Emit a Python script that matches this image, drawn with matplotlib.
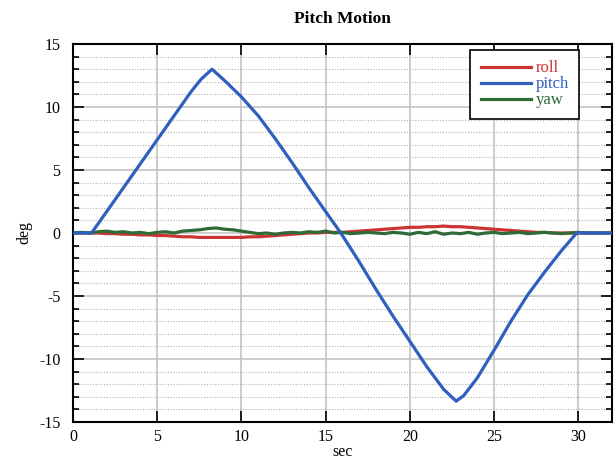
"""Pitch motion: roll, pitch and yaw angles against time."""

from matplotlib import pyplot
from matplotlib.ticker import MultipleLocator
import numpy

# Pitch angle, read at its corners (sec, deg).
pitch_t = [0.0, 1.1, 2.0, 3.0, 4.0, 5.0, 6.0, 7.0, 7.6, 8.25,
           9.0, 10.0, 11.0, 12.0, 13.0, 14.0, 15.0, 15.9, 17.0, 18.0,
           19.0, 20.0, 21.0, 22.0, 22.75, 23.2, 24.0, 25.0, 26.0, 27.0,
           28.0, 29.0, 29.9, 32.0]
pitch = [0.0, 0.0, 1.7, 3.6, 5.5, 7.4, 9.3, 11.2, 12.2, 13.0,
         12.1, 10.8, 9.3, 7.5, 5.6, 3.6, 1.7, 0.0, -2.3, -4.5,
         -6.6, -8.6, -10.6, -12.4, -13.35, -12.9, -11.5, -9.3, -7.0, -4.9,
         -3.1, -1.4, 0.0, 0.0]

# Roll and yaw, read every half second.
t = numpy.arange(0.0, 32.01, 0.5)
roll = [0.0, 0.0, 0.0, 0.0, -0.05, -0.05, -0.1, -0.1, -0.15, -0.15,
        -0.2, -0.2, -0.25, -0.3, -0.3, -0.35, -0.35, -0.35, -0.35, -0.35,
        -0.35, -0.3, -0.3, -0.25, -0.2, -0.15, -0.1, -0.05, 0.0, 0.0,
        0.05, 0.05, 0.05, 0.1, 0.15, 0.2, 0.25, 0.3, 0.35, 0.4,
        0.45, 0.45, 0.5, 0.5, 0.55, 0.5, 0.5, 0.45, 0.4, 0.35,
        0.3, 0.25, 0.2, 0.15, 0.1, 0.05, 0.05, 0.0, 0.0, 0.0,
        0.0, 0.0, 0.0, 0.0, 0.0]
yaw = [0.0, 0.05, 0.0, 0.1, 0.15, 0.05, 0.1, 0.0, 0.05, -0.05,
       0.05, 0.1, 0.0, 0.15, 0.2, 0.25, 0.35, 0.4, 0.3, 0.25,
       0.15, 0.05, -0.05, 0.0, -0.1, 0.0, 0.05, 0.0, 0.1, 0.05,
       0.15, 0.0, 0.05, -0.05, 0.0, 0.05, 0.0, -0.05, 0.05, 0.0,
       -0.1, 0.05, -0.05, 0.1, -0.1, 0.0, -0.05, 0.05, -0.1, 0.0,
       0.05, -0.05, 0.0, 0.05, -0.05, 0.0, 0.05, 0.0, -0.05, 0.0,
       0.05, 0.0, 0.0, 0.0, 0.0]

red = '#cc3333'
blue = '#2f5fbf'
green = '#2e6b37'

pyplot.rc('font', family=['Liberation Serif', 'DejaVu Serif'], size=11.5)
pyplot.rc('axes', unicode_minus=False)
fig = pyplot.figure(figsize=(6.15, 4.59), dpi=100)
ax = fig.add_axes([73 / 615, 37 / 459, 539 / 615, 378 / 459])

l_roll, = ax.plot(t, roll, color=red, linewidth=2.3, zorder=3)
l_yaw, = ax.plot(t, yaw, color=green, linewidth=2.3, zorder=4)
l_pitch, = ax.plot(pitch_t, pitch, color=blue, linewidth=2.3, zorder=5)

ax.set_xlim(0, 32)
ax.set_ylim(-15, 15)
ax.xaxis.set_major_locator(MultipleLocator(5))
ax.yaxis.set_major_locator(MultipleLocator(5))
ax.yaxis.set_minor_locator(MultipleLocator(1))
ax.grid(which='major', color='#c4c4c4', linewidth=1.2, linestyle='-')
ax.grid(which='minor', axis='y', color='#b0b0b0', linewidth=0.8,
        linestyle=(0, (1, 1.5)))
ax.set_axisbelow(True)
ax.tick_params(which='both', direction='in', top=True, right=True,
               labelsize=11.5, width=1.2, colors='black')
ax.tick_params(which='major', length=8)
ax.tick_params(which='minor', length=4)
ax.tick_params(axis='x', which='major', pad=5)
ax.tick_params(axis='y', which='major', pad=9)
for spine in ax.spines.values():
    spine.set_linewidth(1.5)

ax.set_xlabel('sec', fontsize=11.5, labelpad=-1)
ax.set_ylabel('deg', fontsize=11.5, labelpad=5)
ax.set_title('Pitch Motion', fontsize=12.5, fontweight='bold', pad=15)

leg = ax.legend([l_roll, l_pitch, l_yaw], ['roll', 'pitch', 'yaw'],
                loc='upper right', bbox_to_anchor=(0.939, 0.984),
                fancybox=False, framealpha=1, edgecolor='black',
                fontsize=12, handlelength=3.05, handletextpad=0.25,
                labelspacing=0.0, borderpad=0.62, borderaxespad=0)
leg.get_frame().set_linewidth(1.2)
for text, color in zip(leg.get_texts(), [red, blue, green]):
    text.set_color(color)

fig.savefig('out.png', dpi=100)
